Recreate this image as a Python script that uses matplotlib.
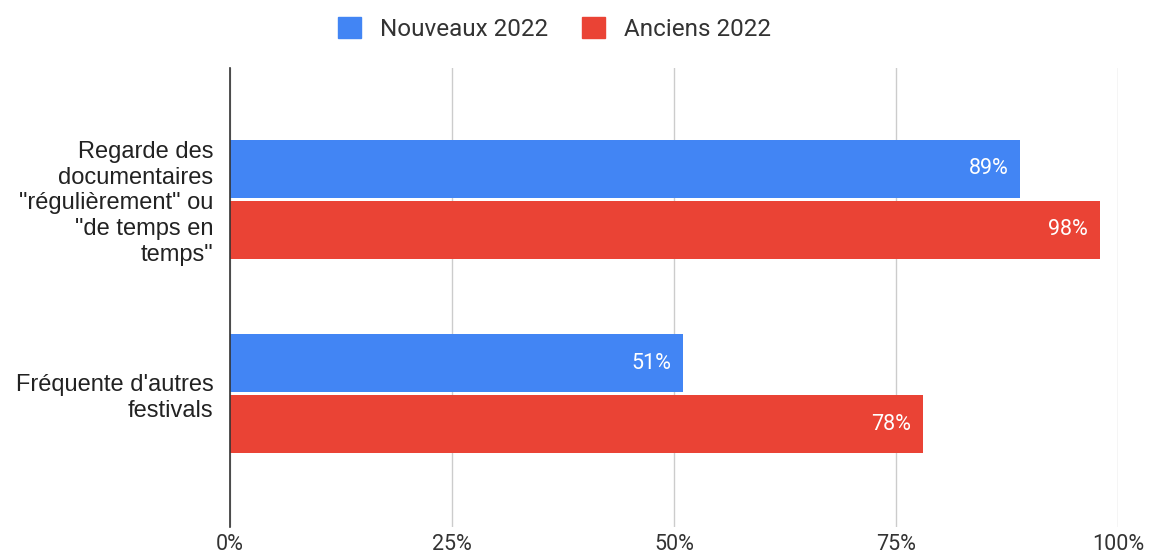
import matplotlib
matplotlib.use("Agg")
import matplotlib.pyplot as plt
from matplotlib.patches import Patch
import numpy as np

categories = ['Regarde des\ndocumentaires\n"régulièrement" ou\n"de temps en\ntemps"',
              "Fréquente d'autres\nfestivals"]
series_names = ["Nouveaux 2022", "Anciens 2022"]
nouveaux = [89, 51]
anciens = [98, 78]
xticks = [0, 25, 50, 75, 100]
xticklabels = ["0%", "25%", "50%", "75%", "100%"]

BLUE = "#4285F4"
RED = "#EA4335"

plt.rcParams['font.family'] = ['Roboto', 'DejaVu Sans']

W, H = 1151, 558
fig = plt.figure(figsize=(W / 100, H / 100), dpi=100)
ax = fig.add_axes([230 / W, 1 - 527 / H, (1118 - 230) / W, (527 - 68) / H])

y = np.arange(len(categories))
h = 0.298
off = 0.157
b1 = ax.barh(y - off, nouveaux, height=h, color=BLUE, zorder=3)
b2 = ax.barh(y + off, anciens, height=h, color=RED, zorder=3)

for bars, vals in ((b1, nouveaux), (b2, anciens)):
    for rect, v in zip(bars, vals):
        ax.annotate(f"{v}%", (v, rect.get_y() + rect.get_height() / 2),
                    xytext=(-12, 0), textcoords="offset pixels",
                    ha="right", va="center", color="white", fontsize=15.5, zorder=4)

ax.set_xlim(0, 100)
ax.set_ylim(1.686, -0.674)
ax.set_xticks(xticks)
ax.set_xticklabels(xticklabels, fontsize=15.5, color="#333333")
ax.set_yticks(y)
ax.set_yticklabels(categories, fontsize=17, color="#222222", linespacing=1.22,
                   family=["Liberation Sans", "DejaVu Sans"])
ax.tick_params(axis="both", length=0)
ax.tick_params(axis="x", pad=5)
ax.tick_params(axis="y", pad=12)
for lab in ax.get_yticklabels():
    lab.set_horizontalalignment("right")
    lab.set_multialignment("right")

ax.grid(axis="x", color="#cccccc", linewidth=1, zorder=0)
ax.set_axisbelow(True)
for s in ["top", "right", "bottom"]:
    ax.spines[s].set_visible(False)
ax.spines["left"].set_color("#333333")
ax.spines["left"].set_linewidth(1.2)
ax.spines["left"].set_zorder(5)

handles = [Patch(color=BLUE, label=series_names[0]), Patch(color=RED, label=series_names[1])]
fig.legend(handles=handles, loc="center", bbox_to_anchor=(0.482, 1 - 29 / H), ncol=2,
           frameon=False, fontsize=17.5, handlelength=0.95, handleheight=0.95,
           columnspacing=1.4, handletextpad=0.78, labelcolor="#333333")

fig.savefig("out.png", dpi=100, facecolor="white")
